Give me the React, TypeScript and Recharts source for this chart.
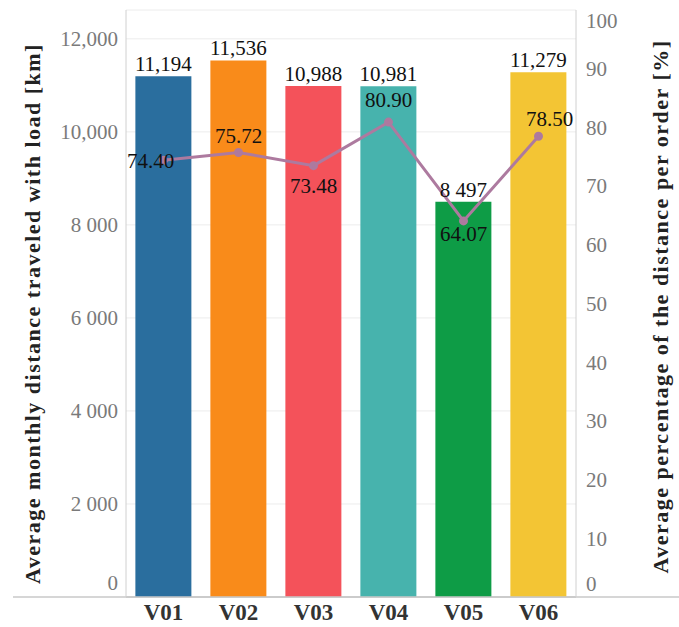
import React from 'react';
import {
  ComposedChart,
  Bar,
  Line,
  XAxis,
  YAxis,
  CartesianGrid,
  Cell,
  LabelList,
  usePlotArea,
  useChartWidth,
} from 'recharts';

// Vehicles
const vehicles = ['V01', 'V02', 'V03', 'V04', 'V05', 'V06'];
// Average monthly distance traveled with load [km]
const distanceKm = [11194, 11536, 10988, 10981, 8497, 11279];
const distanceLabels = ['11,194', '11,536', '10,988', '10,981', '8 497', '11,279'];
// Average percentage of the distance per order [%]
const percentPerOrder = [74.4, 75.72, 73.48, 80.9, 64.07, 78.5];
const percentLabels = ['74.40', '75.72', '73.48', '80.90', '64.07', '78.50'];

// Axis ticks
const distanceTicks = [0, 2000, 4000, 6000, 8000, 10000, 12000];
const distanceTickLabels = ['0', '2 000', '4 000', '6 000', '8 000', '10,000', '12,000'];
const percentTicks = [0, 10, 20, 30, 40, 50, 60, 70, 80, 90, 100];

// Styling
const barColors = ['#2a6e9e', '#f98b1a', '#f4525a', '#47b3ad', '#0e9c46', '#f3c534'];
const lineColor = '#ad7a9f';
const serif = '"Liberation Serif", "Times New Roman", serif';
const percentLabelOffsets = [
  { dx: -13, dy: 0 },
  { dx: 0, dy: -17 },
  { dx: 0, dy: 20 },
  { dx: 0, dy: -22 },
  { dx: 0, dy: 13 },
  { dx: 11, dy: -18 },
];

const chartData = vehicles.map((v, i) => ({
  vehicle: v,
  distance: distanceKm[i],
  percent: percentPerOrder[i],
  distanceLabel: distanceLabels[i],
  percentLabel: percentLabels[i],
}));

const LeftTick = (props: any) => {
  const { x, y, payload } = props;
  const idx = distanceTicks.indexOf(payload.value);
  const shift = payload.value === 0 ? -14 : 0;
  return (
    <text x={x} y={y + shift} dy="0.35em" textAnchor="end" fontFamily={serif} fontSize={21} fill="#7a7a7a">
      {distanceTickLabels[idx]}
    </text>
  );
};

const RightTick = (props: any) => {
  const { x, y, payload } = props;
  const shift = payload.value === 0 ? -13 : payload.value === 100 ? 11 : 0;
  return (
    <text x={x} y={y + shift} dy="0.35em" textAnchor="start" fontFamily={serif} fontSize={21} fill="#7a7a7a">
      {payload.value}
    </text>
  );
};

const XTick = (props: any) => {
  const { x, y, payload } = props;
  return (
    <text x={x} y={y} dy="0.9em" textAnchor="middle" fontFamily={serif} fontSize={23} fontWeight="bold" fill="#333">
      {payload.value}
    </text>
  );
};

const PercentLabel = (props: any) => {
  const { x, y, index, value } = props;
  const off = percentLabelOffsets[index] || { dx: 0, dy: 0 };
  return (
    <text
      x={x + off.dx}
      y={y + off.dy}
      dy="0.35em"
      textAnchor="middle"
      fontFamily={serif}
      fontSize={21}
      fill="#111"
    >
      {value}
    </text>
  );
};

const AxisTitle = ({ viewBox, text, side }: any) => {
  const cx = side === 'left' ? viewBox.x + 32 : viewBox.x + viewBox.width - 19;
  const cy = viewBox.y + viewBox.height / 2 + (side === 'left' ? 10 : 3);
  return (
    <text
      x={cx}
      y={cy}
      transform={`rotate(-90, ${cx}, ${cy})`}
      textAnchor="middle"
      dominantBaseline="central"
      fontFamily={serif}
      fontSize={22}
      fontWeight="bold"
      letterSpacing={1.5}
      fill="#222"
    >
      {text}
    </text>
  );
};

// Baseline running across the full chart width
const Baseline = () => {
  const plot = usePlotArea();
  const width = useChartWidth();
  if (!plot || !width) return null;
  const yb = plot.y + plot.height;
  return <line x1={13} x2={width} y1={yb} y2={yb} stroke="#c8c8c8" strokeWidth={1.5} />;
};

export default function App() {
  return (
    <div style={{ position: 'absolute', left: 0, top: 0, background: '#fff' }}>
      <ComposedChart
        width={679}
        height={627}
        data={chartData}
        margin={{ top: 10, right: 0, bottom: 0, left: 0 }}
        barCategoryGap="12.5%"
      >
        <CartesianGrid yAxisId="dist" vertical={false} stroke="#ececec" />
        <XAxis
          dataKey="vehicle"
          height={30}
          tickLine={false}
          tickSize={0}
          tickMargin={2}
          axisLine={{ stroke: '#c8c8c8', strokeWidth: 1.5 }}
          tick={<XTick />}
        />
        <YAxis
          yAxisId="dist"
          orientation="left"
          width={126}
          domain={[0, 12620]}
          ticks={distanceTicks}
          interval={0}
          tickLine={false}
          tickSize={0}
          tickMargin={8}
          axisLine={{ stroke: '#d0d0d0' }}
          tick={<LeftTick />}
          label={<AxisTitle side="left" text="Average monthly distance traveled with load [km]" />}
        />
        <YAxis
          yAxisId="pct"
          orientation="right"
          width={103}
          domain={[0, 100]}
          ticks={percentTicks}
          interval={0}
          tickLine={false}
          tickSize={0}
          tickMargin={10}
          axisLine={{ stroke: '#d0d0d0' }}
          tick={<RightTick />}
          label={<AxisTitle side="right" text="Average percentage of the distance per order [%]" />}
        />
        <Bar yAxisId="dist" dataKey="distance" isAnimationActive={false}>
          {chartData.map((d, i) => (
            <Cell key={d.vehicle} fill={barColors[i]} />
          ))}
          <LabelList
            dataKey="distanceLabel"
            position="top"
            offset={5}
            style={{ fontFamily: serif, fontSize: 21, fill: '#111' }}
          />
        </Bar>
        <Line
          yAxisId="pct"
          dataKey="percent"
          stroke={lineColor}
          strokeWidth={3}
          dot={{ r: 3, fill: lineColor, stroke: lineColor }}
          isAnimationActive={false}
        >
          <LabelList dataKey="percentLabel" content={<PercentLabel />} />
        </Line>
        <Baseline />
      </ComposedChart>
    </div>
  );
}
